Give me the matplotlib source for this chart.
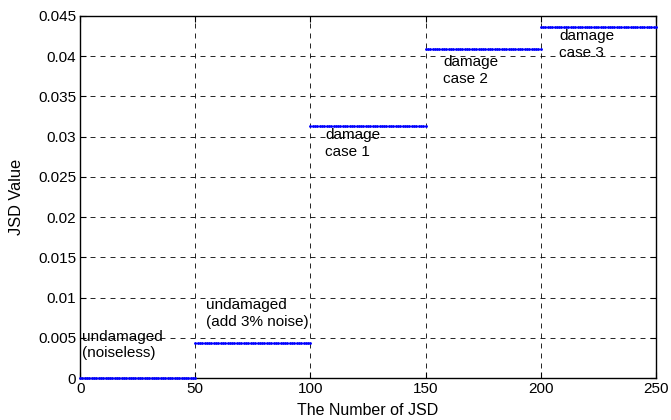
import matplotlib
matplotlib.use("Agg")
import matplotlib.pyplot as plt
import numpy as np

plt.rcParams['font.family'] = ['Liberation Sans', 'DejaVu Sans']

# JSD value of each group (one flat segment of 50 per group)
levels = [0.0, 0.00437, 0.0313, 0.0409, 0.04368]
starts = [0, 50, 100, 150, 200]
seg_len = 50
labels = ["undamaged\n(noiseless)", "undamaged\n(add 3% noise)",
          "damage\ncase 1", "damage\ncase 2", "damage\ncase 3"]
label_x = [0.6, 54.5, 106.3, 157.7, 208]
label_y = [0.0060, 0.0099, 0.0311, 0.0401, 0.0434]

fig = plt.figure(figsize=(6.71, 4.2), dpi=100)
ax = fig.add_axes([0.1195, 0.1, 0.858, 0.862])

for s, lv in zip(starts, levels):
    xs = np.arange(s, s + seg_len + 1)
    ax.plot(xs, np.full(len(xs), lv), color='b', marker='.',
            markersize=2, linewidth=1, clip_on=False, zorder=3)

for x, y, t in zip(label_x, label_y, labels):
    ax.text(x, y, t, fontsize=11, va='top', ha='left', linespacing=1.25)

ax.set_xlim(0, 250)
ax.set_ylim(0, 0.045)
ax.set_xticks(np.arange(0, 251, 50))
ax.set_yticks(np.arange(0, 0.0451, 0.005))
ax.set_yticklabels(['0', '0.005', '0.01', '0.015', '0.02', '0.025',
                    '0.03', '0.035', '0.04', '0.045'])
ax.grid(True, linestyle=(0, (6, 6)), color='k', linewidth=0.6)
ax.tick_params(direction='in', labelsize=11, top=True, right=True,
               length=4, pad=3)
for sp in ax.spines.values():
    sp.set_linewidth(1)
ax.set_xlabel('The Number of JSD', fontsize=11.5, labelpad=5)
ax.set_ylabel('JSD Value', fontsize=11.8, labelpad=10)

fig.savefig('out.png', dpi=100)
